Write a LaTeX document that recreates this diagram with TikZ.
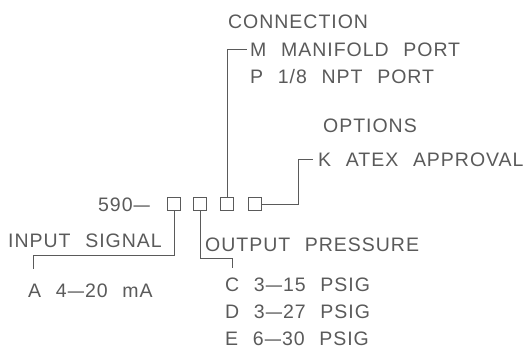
\documentclass[tikz,border=0pt]{standalone}
\usepackage{graphicx}
\usepackage{fontspec}
\newfontfamily\cadfont{Liberation Sans}[LetterSpace=5,WordSpace=2.3]
\newcommand\cdash{\kern1pt\scalebox{1.5}[1]{–}\kern1pt}
\definecolor{ink}{HTML}{5A5A5A}
\begin{document}
\begin{tikzpicture}[x=1pt,y=-1pt,
  lbl/.style={anchor=base west,inner sep=0pt,text=ink,font=\cadfont\fontsize{19.5}{20}\selectfont},
  sq/.style={draw=ink,line width=0.9pt,minimum size=13.5pt,inner sep=0pt},
  lead/.style={draw=ink,line width=0.9pt}]
\useasboundingbox (0,0) rectangle (530,354);
\fill[white] (0,0) rectangle (530,354);
% code
\node[lbl] (code) at (98,211) {590\cdash};
\node[sq] (b1) at (174,204) {};
\node[sq] (b2) at (200,204) {};
\node[sq] (b3) at (227,204) {};
\node[sq] (b4) at (255,204) {};
% input signal
\node[lbl] (insig) at (8,247) {INPUT SIGNAL};
\node[lbl] (inA) at (28,297) {A 4\cdash 20 mA};
\coordinate (e1) at (33,269);
\draw[lead] (b1.south) |- (33,255) -- (e1);
% output pressure
\node[lbl] (outp) at (205,251) {OUTPUT PRESSURE};
\node[lbl] (outC) at (225,291) {C 3\cdash 15 PSIG};
\node[lbl] (outD) at (225,318) {D 3\cdash 27 PSIG};
\node[lbl] (outE) at (225,345) {E 6\cdash 30 PSIG};
\coordinate (e2) at (232,268);
\draw[lead] (b2.south) |- (232,258) -- (e2);
% connection
\node[lbl] (conn) at (228,28) {CONNECTION};
\node[lbl] (connM) at (250,56) {M MANIFOLD PORT};
\node[lbl] (connP) at (250,83) {P 1/8 NPT PORT};
\coordinate (e3) at (247,49);
\draw[lead] (b3.north) |- (e3);
% options
\node[lbl] (opt) at (323,132) {OPTIONS};
\node[lbl] (optK) at (318,166) {K ATEX APPROVAL};
\coordinate (e4) at (313,159);
\draw[lead] (b4.east) -| (298,159) -- (e4);
\end{tikzpicture}
\end{document}
